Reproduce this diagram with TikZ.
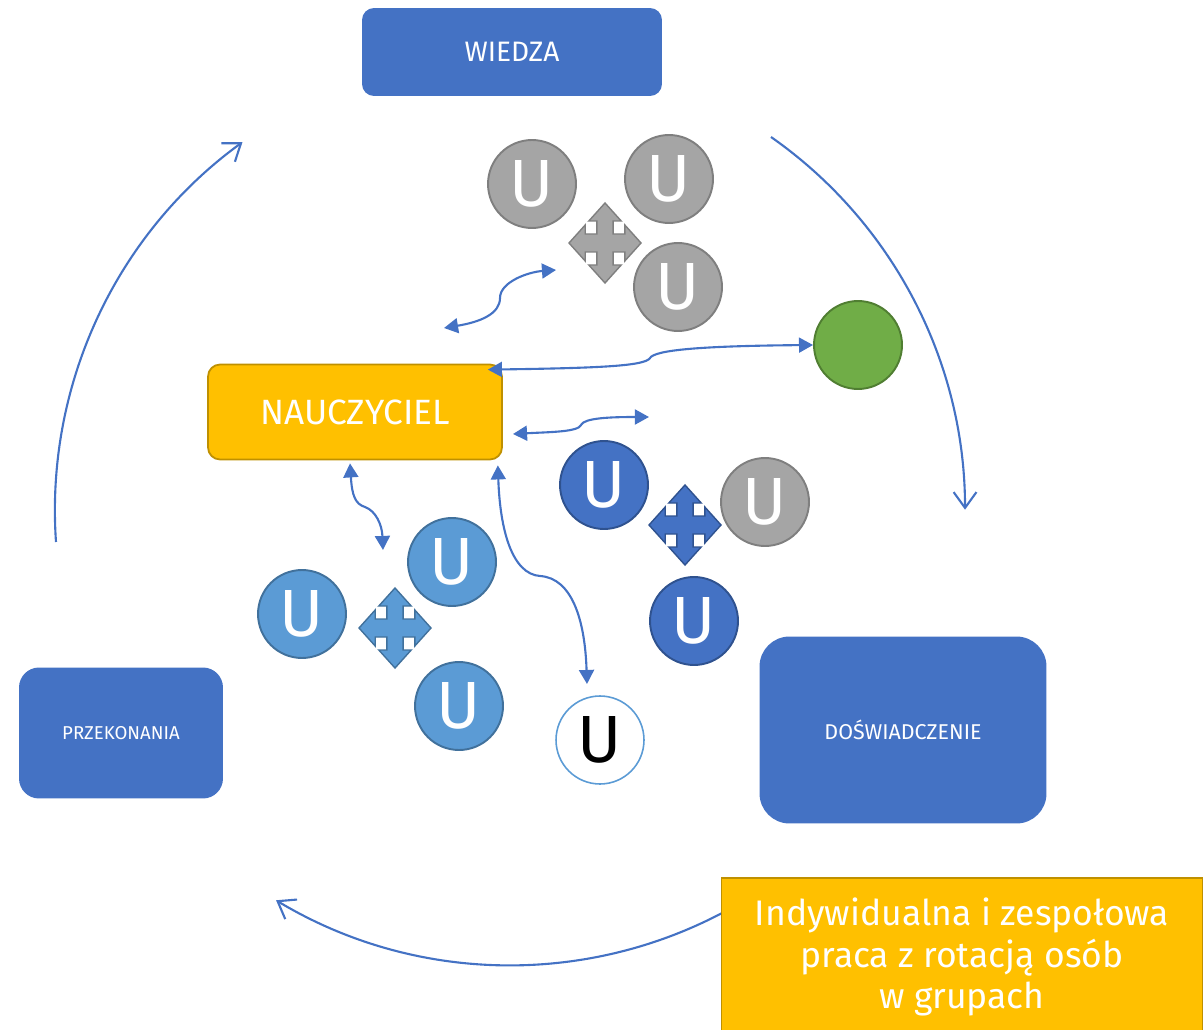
\documentclass[tikz,border=0pt]{standalone}
\usepackage{fontspec}
\setmainfont{Fira Sans}
\usetikzlibrary{arrows.meta,calc}
\definecolor{boxblue}{HTML}{4472C4}
\definecolor{darkline}{HTML}{2F528F}
\definecolor{lightblue}{HTML}{5B9BD5}
\definecolor{lightline}{HTML}{41719C}
\definecolor{grayfill}{HTML}{A5A5A5}
\definecolor{grayline}{HTML}{7F7F7F}
\definecolor{peergreen}{HTML}{70AD47}
\definecolor{greenline}{HTML}{507E32}
\definecolor{gold}{HTML}{FFC000}
\definecolor{goldline}{HTML}{BF9000}
\newcommand{\quadarrow}[3]% center, xdim, ydim
{{[shift={(#1)},xscale=#2,yscale=#3]
 (0,1) -- (0.45,0.55) -- (0.225,0.55) -- (0.225,0.225) -- (0.55,0.225) -- (0.55,0.45)
 -- (1,0) -- (0.55,-0.45) -- (0.55,-0.225) -- (0.225,-0.225) -- (0.225,-0.55) -- (0.45,-0.55)
 -- (0,-1) -- (-0.45,-0.55) -- (-0.225,-0.55) -- (-0.225,-0.225) -- (-0.55,-0.225) -- (-0.55,-0.45)
 -- (-1,0) -- (-0.55,0.45) -- (-0.55,0.225) -- (-0.225,0.225) -- (-0.225,0.55) -- (-0.45,0.55) -- cycle}
}
\tikzset{
  stagebox/.style={fill=boxblue,text=white,inner sep=0pt},
  goldbox/.style={fill=gold,draw=goldline,line width=1pt,text=white,inner sep=0pt},
  ucirc/.style={circle,minimum size=1.76cm,inner sep=0pt,line width=1.1pt,
    font=\fontsize{38}{40}\selectfont,text=white},
  ugray/.style={ucirc,fill=grayfill,draw=grayline},
  udark/.style={ucirc,fill=boxblue,draw=darkline},
  ulight/.style={ucirc,fill=lightblue,draw=lightline},
  uwhite/.style={ucirc,fill=white,draw=lightblue,line width=0.9pt,text=black},
  quadbox/.style={line width=0.8pt},
  link/.style={draw=boxblue,line width=1.2pt,
    {Triangle[length=8pt,width=8.5pt]}-{Triangle[length=8pt,width=8.5pt]}},
  ringarc/.style={draw=boxblue,line width=1.2pt,-{Straight Barb[length=9pt,width=13pt]}}
}
\begin{document}
\begin{tikzpicture}[x=0.02cm,y=0.02cm]
  \useasboundingbox (0,0) rectangle (1203,-1030);
  % outer ring
  \coordinate (r1) at (56,-542);
  \coordinate (r2) at (771,-137);
  \coordinate (r3) at (724,-912);
  \draw[ringarc] (r1) arc[start angle=184,end angle=126,radius=455];
  \draw[ringarc] (r2) arc[start angle=55,end angle=0,radius=455];
  \draw[ringarc] (r3) arc[start angle=-62,end angle=-121,radius=455];
  % stages
  \node[stagebox,minimum width=6cm,minimum height=1.76cm,rounded corners=0.24cm,
    font=\fontsize{16}{19}\selectfont] (wiedza) at (512,-52) {WIEDZA};
  \node[stagebox,minimum width=4.08cm,minimum height=2.62cm,rounded corners=0.4cm,
    font=\fontsize{10.6}{12}\selectfont] (przek) at (121,-733) {PRZEKONANIA};
  \node[stagebox,minimum width=5.74cm,minimum height=3.74cm,rounded corners=0.6cm,
    font=\fontsize{12.2}{14}\selectfont] (dosw) at (903,-730) {DOŚWIADCZENIE};
  \node[goldbox,minimum width=5.88cm,minimum height=1.9cm,rounded corners=0.24cm,
    font=\fontsize{20}{23}\selectfont] (teach) at (355,-412) {NAUCZYCIEL};
  \node[goldbox,minimum width=9.62cm,minimum height=3.16cm,align=center,
    font=\fontsize{20.2}{23.8}\selectfont] (task) at (962,-957)
    {Indywidualna i zespołowa\\praca z rotacją osób\\w grupach};
  % groups
  \node[ugray] (g1) at (532,-184) {U};
  \node[ugray] (g2) at (669,-179) {U};
  \node[ugray] (g3) at (678,-287) {U};
  \draw[quadbox,fill=grayfill,draw=grayline] \quadarrow{605,-243}{36}{40};
  \node[circle,minimum size=1.76cm,fill=peergreen,draw=greenline,line width=1.1pt] (peer) at (858,-345) {};
  \node[udark] (b1) at (604,-485) {U};
  \node[ugray] (g4) at (765,-502) {U};
  \node[udark] (b2) at (694,-621) {U};
  \draw[quadbox,fill=boxblue,draw=darkline] \quadarrow{685,-525}{36}{40};
  \node[ulight] (l1) at (452,-562) {U};
  \node[ulight] (l2) at (302,-614) {U};
  \node[ulight] (l3) at (459,-706) {U};
  \draw[quadbox,fill=lightblue,draw=lightline] \quadarrow{395,-628}{36}{40};
  \node[uwhite] (solo) at (600,-740) {U};
  % links
  \coordinate (tq) at (444,-328);
  \coordinate (gq) at (556,-270);
  \coordinate (tb) at (513,-434);
  \coordinate (bq) at (649,-417);
  \coordinate (lq) at (383,-550);
  \coordinate (sq) at (587,-684);
  \draw[link] (tq) .. controls (480,-322) and (500,-314) .. (500,-298)
    .. controls (500,-282) and (528,-272) .. (gq);
  \draw[link] ($(teach.north east)+(-15,-6)$) .. controls (600,-368) and (645,-366) .. (650,-358)
    .. controls (655,-350) and (700,-346) .. (peer.west);
  \draw[link] (tb) .. controls (550,-432) and (578,-432) .. (581,-425)
    .. controls (584,-418) and (610,-417) .. (bq);
  \draw[link] ($(teach.south)+(-5,-3)$) .. controls (352,-495) and (355,-504) .. (365,-507)
    .. controls (376,-511) and (382,-525) .. (lq);
  \draw[link] ($(teach.south east)+(-5,-5)$) .. controls (500,-530) and (512,-574) .. (540,-576)
    .. controls (572,-578) and (585,-620) .. (sq);
\end{tikzpicture}
\end{document}
